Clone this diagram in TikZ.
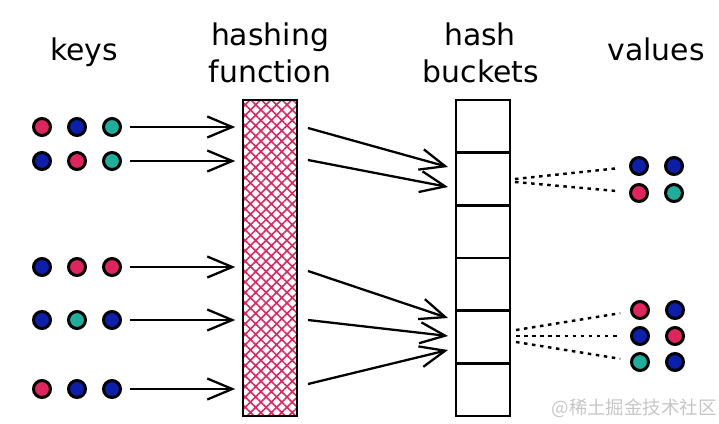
\documentclass[tikz,border=0pt]{standalone}
\usepackage{fontspec}
\setmainfont{DejaVu Sans}
\newfontfamily\cjkfont{Noto Sans CJK SC}
\usetikzlibrary{arrows.meta,patterns.meta}

\definecolor{keyred}{HTML}{E0245E}
\definecolor{keyblue}{HTML}{0B1FAA}
\definecolor{keyteal}{HTML}{1FAE9C}

\begin{document}
\begin{tikzpicture}[x=0.02cm, y=-0.02cm]

\tikzset{
  keydot/.style={
    circle, draw=black, line width=1.7pt,
    minimum size=0.34cm, inner sep=0pt,
  },
  heading/.style={
    font=\fontsize{17}{20}\selectfont, inner sep=0pt, anchor=base,
  },
  bucket/.style={
    draw, line width=1.4pt, outer sep=0pt,
    minimum width=1.08cm, minimum height=1.0533cm,
  },
  feed/.style={
    line width=1.3pt,
    -{Straight Barb[length=0.5cm,width=0.42cm,line width=1.3pt]},
  },
  link/.style={
    line width=1.4pt, dash pattern=on 2pt off 2.6pt,
  }
}

  \useasboundingbox (0,0) rectangle (719,423);

  % Titles
  \node[heading] (tkeys) at (84,60) {keys};
  \node[heading] (thash) at (270,45) {hashing};
  \node[heading] (tfunc) at (270,82) {function};
  \node[heading] (tbhash) at (480,45) {hash};
  \node[heading] (tbuck) at (481,82) {buckets};
  \node[heading] (tvals) at (656,60) {values};

  % Keys
  \foreach \row/\y/\ca/\cb/\cc in {1/127/keyred/keyblue/keyteal,
                                    2/161/keyblue/keyred/keyteal,
                                    3/267/keyblue/keyred/keyred,
                                    4/320/keyblue/keyteal/keyblue,
                                    5/389/keyred/keyblue/keyblue} {
    \node[keydot, fill=\ca] (k\row a) at (42,\y)  {};
    \node[keydot, fill=\cb] (k\row b) at (77,\y)  {};
    \node[keydot, fill=\cc] (k\row c) at (112,\y) {};
  }

  % Hashing function
  \node[draw, line width=1.6pt, minimum width=1.08cm, minimum height=6.32cm,
        pattern={Hatch[angle=45,distance=4.2pt,line width=0.9pt]},
        pattern color=keyred] (hash) at (270,258) {};

  % Hash buckets
  \foreach \i in {1,...,6}
    \node[bucket] (b\i) at (483,{73.67+52.67*\i}) {};

  % Values
  \node[keydot, fill=keyblue] (v1a) at (639,166) {};
  \node[keydot, fill=keyblue] (v1b) at (674,166) {};
  \node[keydot, fill=keyred]  (v2a) at (639,193) {};
  \node[keydot, fill=keyteal] (v2b) at (674,193) {};

  \node[keydot, fill=keyred]  (v3a) at (640,310) {};
  \node[keydot, fill=keyblue] (v3b) at (675,310) {};
  \node[keydot, fill=keyblue] (v4a) at (640,336) {};
  \node[keydot, fill=keyred]  (v4b) at (675,336) {};
  \node[keydot, fill=keyteal] (v5a) at (640,362) {};
  \node[keydot, fill=keyblue] (v5b) at (675,362) {};

  % Edges: keys -> function
  \foreach \row in {1,...,5}
    \draw[feed, shorten <=0.16cm, shorten >=0.14cm] (k\row c) -- (k\row c -| hash.west);

  % Edges: function -> buckets
  \coordinate (h1) at (308,128);
  \coordinate (h2) at (308,160);
  \coordinate (h3) at (308,271);
  \coordinate (h4) at (308,320);
  \coordinate (h5) at (308,384);

  \coordinate (e1) at (448,167);
  \coordinate (e2) at (448,187);
  \coordinate (e3) at (448,318);
  \coordinate (e4) at (448,336);
  \coordinate (e5) at (448,350);

  \foreach \j in {1,...,5}
    \draw[feed] (h\j) -- (e\j);

  % Edges: buckets -> values
  \coordinate (s1) at (515,179);
  \coordinate (s2) at (515,182);
  \coordinate (s3) at (516,330);
  \coordinate (s4) at (516,336);
  \coordinate (s5) at (516,342);

  \draw[link, shorten >=0.2cm] (s1) -- (v1a);
  \draw[link, shorten >=0.2cm] (s2) -- (v2a);
  \draw[link, shorten >=0.2cm] (s3) -- (v3a);
  \draw[link, shorten >=0.2cm] (s4) -- (v4a);
  \draw[link, shorten >=0.2cm] (s5) -- (v5a);

  % Watermark
  \node[text=gray!45, font=\cjkfont\fontsize{10.5}{12}\selectfont, anchor=east, inner sep=0pt]
    (mark) at (717,408) {@稀土掘金技术社区};
\end{tikzpicture}
\end{document}
